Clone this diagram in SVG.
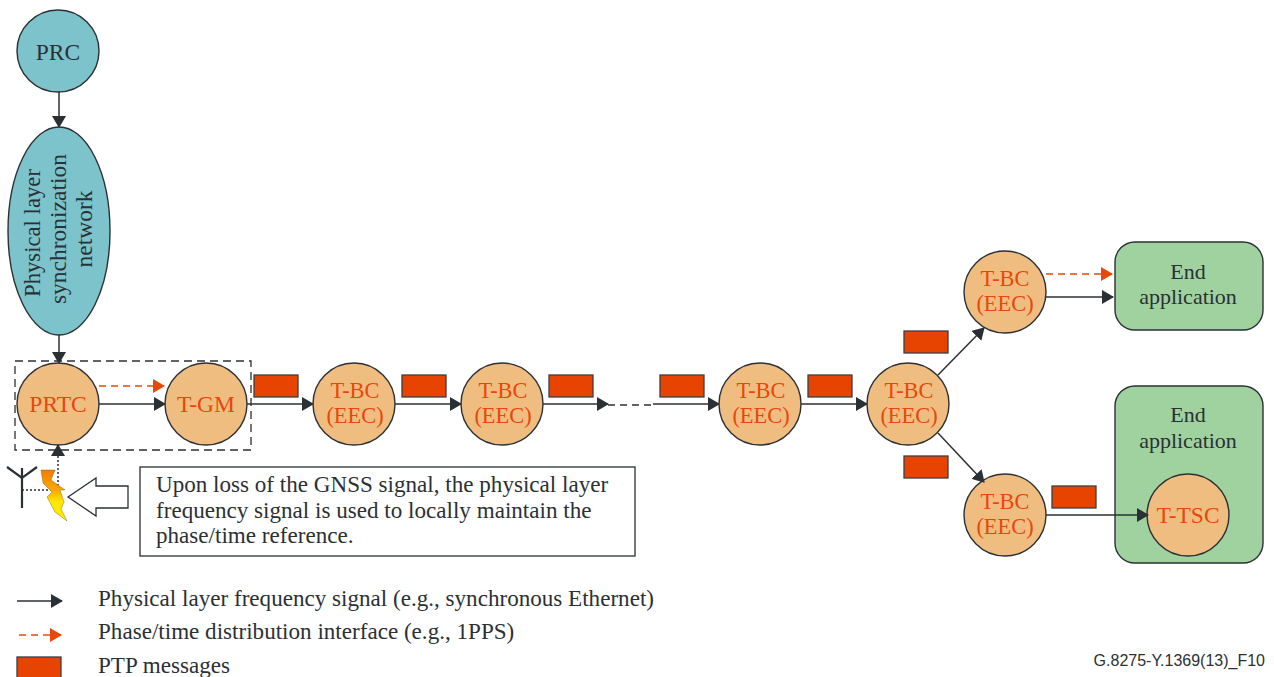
<svg xmlns="http://www.w3.org/2000/svg" width="1274" height="677" viewBox="0 0 1274 677">
<style>
text{font-family:"Liberation Serif","Times New Roman",serif;fill:#2b3035}
.n{fill:#f0bd80;stroke:#2b3035;stroke-width:1.4}
.b{fill:#7cc3cb;stroke:#2b3035;stroke-width:1.4}
.lab{font-size:23.5px;text-anchor:middle;fill:#e8470a}
.bc{font-size:22.4px;text-anchor:middle;fill:#e8470a}
.blk{font-size:23.5px;text-anchor:middle}
.app{font-size:22px;text-anchor:middle}
.ptp{fill:#e64400;stroke:#3a3f44;stroke-width:1.3}
.k{stroke:#2b3035;stroke-width:1.5;fill:none}
.o{stroke:#e8470a;stroke-width:1.5;fill:none;stroke-dasharray:7 5}
.txt{font-size:23.1px}
.gr{fill:#a0d2a0;stroke:#2b3035;stroke-width:1.4}
</style>
<defs>
<marker id="ak" markerUnits="userSpaceOnUse" markerWidth="12" markerHeight="14" refX="11" refY="7" orient="auto"><path d="M0 0L12 7L0 14Z" fill="#2b3035"/></marker>
<marker id="ao" markerUnits="userSpaceOnUse" markerWidth="12" markerHeight="14" refX="11" refY="7" orient="auto"><path d="M0 0L12 7L0 14Z" fill="#e8470a"/></marker>
<linearGradient id="bolt" x1="0" y1="0" x2="0" y2="1"><stop offset="0" stop-color="#f57c00"/><stop offset="0.4" stop-color="#f9a800"/><stop offset="0.62" stop-color="#ffe800"/><stop offset="1" stop-color="#ffee00"/></linearGradient>
</defs>
<rect id="dashed-box" x="15" y="361" width="236" height="89" fill="none" stroke="#2b3035" stroke-width="1.3" stroke-dasharray="8 5"/>
<g id="prc"><circle class="b" cx="58" cy="51" r="41"/><text class="blk" x="58" y="60">PRC</text></g>
<g id="physical"><ellipse class="b" cx="59" cy="231" rx="51" ry="104"/>
<text class="blk" style="font-size:22.7px" transform="translate(40 233) rotate(-90)">Physical layer</text>
<text class="blk" transform="translate(66 229) rotate(-90)">synchronization</text>
<text class="blk" transform="translate(92 229) rotate(-90)">network</text></g>
<g id="prtc"><circle class="n" cx="58" cy="404" r="41"/><text class="lab" x="58" y="412">PRTC</text></g>
<g id="tgm"><circle class="n" cx="206" cy="404" r="41"/><text class="lab" x="206" y="412">T-GM</text></g>
<g id="tbc1"><circle class="n" cx="354" cy="404" r="41"/><text class="bc" x="355" y="398">T-BC</text><text class="bc" x="355" y="423">(EEC)</text></g>
<g id="tbc2"><circle class="n" cx="502" cy="404" r="41"/><text class="bc" x="503" y="398">T-BC</text><text class="bc" x="503" y="423">(EEC)</text></g>
<g id="tbc3"><circle class="n" cx="760" cy="404" r="41"/><text class="bc" x="761" y="398">T-BC</text><text class="bc" x="761" y="423">(EEC)</text></g>
<g id="tbc4"><circle class="n" cx="908" cy="404" r="41"/><text class="bc" x="909" y="398">T-BC</text><text class="bc" x="909" y="423">(EEC)</text></g>
<g id="tbc5"><circle class="n" cx="1005" cy="292" r="41"/><text class="bc" x="1005" y="286">T-BC</text><text class="bc" x="1005" y="311">(EEC)</text></g>
<g id="tbc6"><circle class="n" cx="1005" cy="515" r="41"/><text class="bc" x="1005" y="509">T-BC</text><text class="bc" x="1005" y="534">(EEC)</text></g>
<g id="end1"><rect class="gr" x="1115" y="242" width="148" height="88" rx="20"/><text class="app" x="1188" y="279">End</text><text class="app" x="1188" y="304">application</text></g>
<g id="end2"><rect class="gr" x="1115" y="386" width="148" height="177" rx="20"/><text class="app" x="1188" y="422">End</text><text class="app" x="1188" y="448">application</text></g>
<g id="ttsc"><circle class="n" cx="1188" cy="515" r="41"/><text class="lab" x="1188" y="523">T-TSC</text></g>
<g id="connectors">
<path class="k" d="M59 92V127" marker-end="url(#ak)"/>
<path class="k" d="M59 335V363" marker-end="url(#ak)"/>
<path class="k" d="M99 404H165" marker-end="url(#ak)"/>
<path class="o" d="M99 386H164" marker-end="url(#ao)"/>
<path class="k" d="M247 404H313" marker-end="url(#ak)"/>
<path class="k" d="M395 404H461" marker-end="url(#ak)"/>
<path class="k" d="M543 404H608" marker-end="url(#ak)"/>
<path class="k" d="M608 405H653" stroke-dasharray="7 5"/>
<path class="k" d="M653 404H719" marker-end="url(#ak)"/>
<path class="k" d="M801 404H867" marker-end="url(#ak)"/>
<path class="k" d="M938 375L984 328" marker-end="url(#ak)"/>
<path class="k" d="M938 433L984 482" marker-end="url(#ak)"/>
<path class="k" d="M1046 297H1113" marker-end="url(#ak)"/>
<path class="o" d="M1046 274H1112" marker-end="url(#ao)"/>
<path class="k" d="M1046 515H1148" marker-end="url(#ak)"/>
<path class="k" d="M22 490H58V445" stroke-dasharray="2 2" marker-end="url(#ak)"/>
</g>
<g id="ptp">
<rect class="ptp" x="254" y="375" width="44" height="22"/>
<rect class="ptp" x="402" y="375" width="44" height="22"/>
<rect class="ptp" x="549" y="375" width="44" height="22"/>
<rect class="ptp" x="660" y="375" width="44" height="22"/>
<rect class="ptp" x="808" y="375" width="44" height="22"/>
<rect class="ptp" x="904" y="331" width="44" height="22"/>
<rect class="ptp" x="904" y="456" width="44" height="22"/>
<rect class="ptp" x="1052" y="486" width="44" height="22"/>
</g>
<g id="antenna" fill="none" stroke="#2b3035" stroke-width="2.2"><path d="M22 468V508M7 467L22 478L37 467"/></g>
<g id="lightning"><path d="M41 470H55L51 480L65 490H60L64 502L61 509L67 521L55 512L47 497L52 492L43 483Z" fill="url(#bolt)" stroke="#6b5a00" stroke-width="0.4"/></g>
<g id="hollow-arrow"><path d="M68 497L96 478V486H128V508H96V516Z" fill="#fff" stroke="#2b3035" stroke-width="1.3"/></g>
<g id="note"><rect x="140" y="467" width="495" height="89" fill="#fff" stroke="#2b3035" stroke-width="1.3"/>
<text class="txt" x="156" y="492">Upon loss of the GNSS signal, the physical layer</text>
<text class="txt" x="156" y="518">frequency signal is used to locally maintain the</text>
<text class="txt" x="156" y="543">phase/time reference.</text></g>
<g id="legend">
<path class="k" d="M17 601H62" marker-end="url(#ak)"/>
<path class="o" d="M19 635H61" marker-end="url(#ao)"/>
<rect class="ptp" x="17" y="657" width="44" height="22"/>
<text class="txt" x="98" y="606">Physical layer frequency signal (e.g., synchronous Ethernet)</text>
<text class="txt" x="98" y="639">Phase/time distribution interface (e.g., 1PPS)</text>
<text class="txt" x="98" y="673">PTP messages</text>
</g>
<text x="1265" y="666" text-anchor="end" style="font-family:'Liberation Sans',Arial,sans-serif;font-size:16px">G.8275-Y.1369(13)_F10</text>
</svg>
